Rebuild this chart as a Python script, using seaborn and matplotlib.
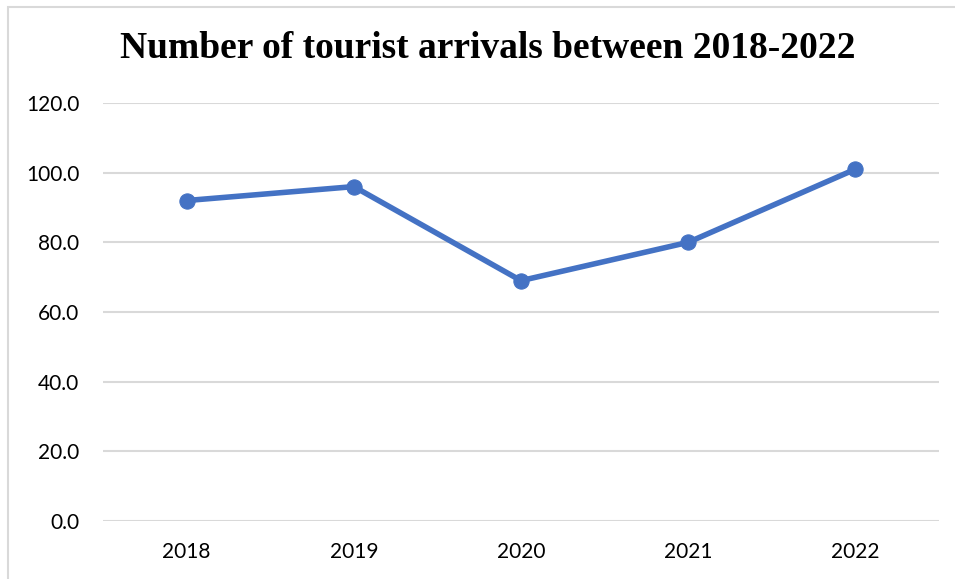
import matplotlib
matplotlib.use("Agg")
import matplotlib.pyplot as plt
import matplotlib.patches as mpatches
import seaborn as sns
import pandas as pd

years = ["2018", "2019", "2020", "2021", "2022"]
arrivals = [92, 96, 69, 80, 101]
y_ticks = [0, 20, 40, 60, 80, 100, 120]
title = "Number of tourist arrivals between 2018-2022"

df = pd.DataFrame({"year": years, "arrivals": arrivals})

sns.set_theme(style="white")
plt.rcParams["font.family"] = ["Lato", "DejaVu Sans"]

fig = plt.figure(figsize=(9.55, 5.79), dpi=100)
ax = fig.add_axes([103 / 955, 58 / 579, 836 / 955, 418 / 579])

line_color = "#4472C4"
sns.lineplot(data=df, x="year", y="arrivals", ax=ax, color=line_color,
             linewidth=4, marker="o", markersize=11,
             markeredgecolor=line_color, sort=False)

ax.set_ylim(0, 120)
ax.set_xlim(-0.5, len(years) - 0.5)
ax.set_yticks(y_ticks)
ax.set_yticklabels([f"{v:.1f}" for v in y_ticks])
ax.yaxis.grid(True, color="#d9d9d9", linewidth=1.5)
ax.xaxis.grid(False)
ax.set_axisbelow(True)
for s in ax.spines.values():
    s.set_visible(False)
ax.tick_params(axis="both", length=0, labelsize=15, labelcolor="#000000")
ax.tick_params(axis="y", pad=17)
ax.tick_params(axis="x", pad=15)
ax.set_xlabel("")
ax.set_ylabel("")

fig.text(488 / 955, 1 - 49 / 579, title, ha="center", va="center",
         fontsize=27, fontweight="bold", family="Liberation Serif",
         color="#000000")

# chart frame
fig.patches.append(mpatches.Rectangle((8 / 955, -0.05), 1.2, 1 - 7 / 579 + 0.05,
                                      transform=fig.transFigure, fill=False,
                                      edgecolor="#d9d9d9", linewidth=1.5))

fig.savefig("out.png", dpi=100)
